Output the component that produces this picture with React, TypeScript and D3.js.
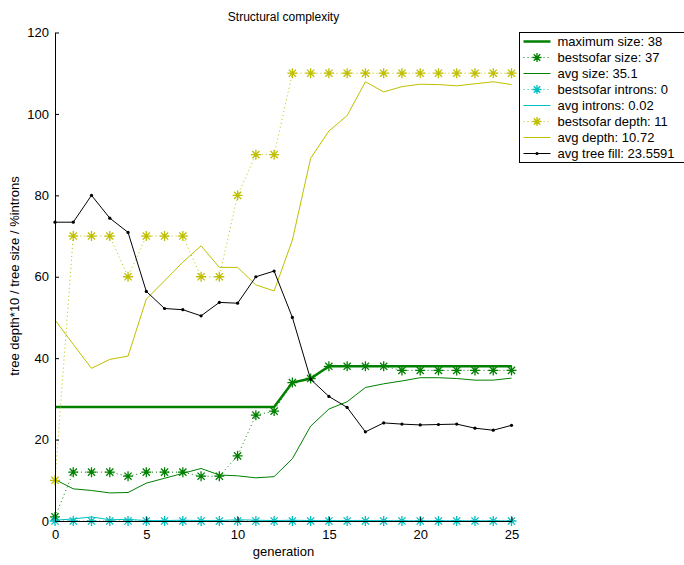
import React, { useEffect, useRef } from "react";
import * as d3 from "d3";

const generations = d3.range(0, 26);

// values (depth is *10)
const maxSize = [28, 28, 28, 28, 28, 28, 28, 28, 28, 28, 28, 28, 28, 34, 35, 38, 38, 38, 38, 38, 38, 38, 38, 38, 38, 38];
const bestSize = [1, 12, 12, 12, 11, 12, 12, 12, 11, 11, 16, 26, 27, 34, 35, 38, 38, 38, 38, 37, 37, 37, 37, 37, 37, 37];
const avgSize = [10.2, 7.9, 7.5, 6.9, 7.0, 9.3, 10.5, 11.7, 12.9, 11.3, 11.1, 10.6, 10.9, 15.3, 23.3, 27.5, 29.3, 32.8, 33.7, 34.4, 35.2, 35.2, 35.0, 34.6, 34.6, 35.1];
const bestIntrons = [0, 0, 0, 0, 0, 0, 0, 0, 0, 0, 0, 0, 0, 0, 0, 0, 0, 0, 0, 0, 0, 0, 0, 0, 0, 0];
const avgIntrons = [0.2, 0.5, 1.0, 0.3, 0.4, 0.1, 0.1, 0.2, 0.1, 0.1, 0.3, 0.2, 0.1, 0.2, 0.1, 0.1, 0.1, 0.1, 0.1, 0.05, 0.05, 0.05, 0.05, 0.05, 0.05, 0.02];
const bestDepth = [10, 70, 70, 70, 60, 70, 70, 70, 60, 60, 80, 90, 90, 110, 110, 110, 110, 110, 110, 110, 110, 110, 110, 110, 110, 110];
const avgDepth = [49.4, 43.4, 37.5, 39.7, 40.5, 54.5, 59.0, 63.6, 67.6, 62.3, 62.3, 58.0, 56.5, 69.0, 89.1, 95.8, 99.6, 107.9, 105.4, 106.7, 107.3, 107.2, 106.9, 107.4, 107.9, 107.2];
const avgFill = [73.4, 73.4, 80.0, 74.4, 70.9, 56.4, 52.2, 51.9, 50.4, 53.7, 53.5, 60.0, 61.4, 50.0, 34.8, 30.6, 27.9, 21.9, 24.1, 23.8, 23.6, 23.7, 23.8, 22.8, 22.3, 23.5];

const xTicks = [0, 5, 10, 15, 20, 25];
const yTicks = [0, 20, 40, 60, 80, 100, 120];

const GREEN = "#008000";
const YELLOW = "#bfbf00";
const CYAN = "#00bfbf";
const BLACK = "#000000";

const series = [
  { label: "maximum size: 38", values: maxSize, color: GREEN, width: 2.5, dotted: false, marker: "none" },
  { label: "bestsofar size: 37", values: bestSize, color: GREEN, width: 1, dotted: true, marker: "star" },
  { label: "avg size: 35.1", values: avgSize, color: GREEN, width: 1, dotted: false, marker: "none" },
  { label: "bestsofar introns: 0", values: bestIntrons, color: CYAN, width: 1, dotted: true, marker: "star" },
  { label: "avg introns: 0.02", values: avgIntrons, color: CYAN, width: 1, dotted: false, marker: "none" },
  { label: "bestsofar depth: 11", values: bestDepth, color: YELLOW, width: 1, dotted: true, marker: "star" },
  { label: "avg depth: 10.72", values: avgDepth, color: YELLOW, width: 1, dotted: false, marker: "none" },
  { label: "avg tree fill: 23.5591", values: avgFill, color: BLACK, width: 1, dotted: false, marker: "dot" },
];

const FONT = "'Liberation Sans', Arial, sans-serif";

const starPath = (r: number) => {
  const d = r * 0.72;
  return `M${-r},0L${r},0M0,${-r}L0,${r}M${-d},${-d}L${d},${d}M${-d},${d}L${d},${-d}`;
};

const App = () => {
  const svgRef = useRef<SVGSVGElement>(null);

  useEffect(() => {
    if (!svgRef.current) return;
    const width = 684;
    const height = 565;
    const svg = d3.select(svgRef.current).attr("width", width).attr("height", height);
    svg.selectAll("*").remove();

    const x = d3.scaleLinear().domain([0, 25]).range([55, 511.5]);
    const y = d3.scaleLinear().domain([0, 120]).range([521, 32.5]);

    // title
    svg.append("text")
      .attr("x", 283.5).attr("y", 21)
      .attr("text-anchor", "middle")
      .style("font-family", FONT).style("font-size", "12px")
      .text("Structural complexity");

    const plot = svg.append("g");

    series.forEach((s) => {
      const line = d3.line<number>()
        .x((_, i) => x(generations[i]))
        .y((d) => y(d));
      plot.append("path")
        .datum(s.values)
        .attr("fill", "none")
        .attr("stroke", s.color)
        .attr("stroke-width", s.width)
        .attr("stroke-dasharray", s.dotted ? "1,3" : null)
        .attr("d", line);
      if (s.marker === "star") {
        plot.selectAll(null)
          .data(s.values)
          .enter()
          .append("path")
          .attr("transform", (d, i) => `translate(${x(generations[i])},${y(d)})`)
          .attr("d", starPath(5))
          .attr("stroke", s.color)
          .attr("stroke-width", 1.3)
          .attr("fill", "none");
      }
      if (s.marker === "dot") {
        plot.selectAll(null)
          .data(s.values)
          .enter()
          .append("circle")
          .attr("cx", (d, i) => x(generations[i]))
          .attr("cy", (d) => y(d))
          .attr("r", 1.6)
          .attr("fill", s.color);
      }
    });

    // axes
    const xAxis = svg.append("g")
      .attr("transform", `translate(0,${y(0)})`)
      .call(d3.axisBottom(x).tickValues(xTicks).tickSize(-4).tickPadding(6).tickSizeOuter(0));
    const yAxis = svg.append("g")
      .attr("transform", `translate(${x(0)},0)`)
      .call(d3.axisLeft(y).tickValues(yTicks).tickSize(-4).tickPadding(6).tickSizeOuter(0));
    [xAxis, yAxis].forEach((a) => {
      a.selectAll("text").style("font-family", FONT).style("font-size", "13px").attr("fill", "#000");
      a.selectAll("line").attr("stroke", "#000");
      a.select(".domain").attr("stroke", "#000");
    });
    xAxis.selectAll("text").attr("dy", "0.9em");

    svg.append("text")
      .attr("x", 283.5).attr("y", 556)
      .attr("text-anchor", "middle")
      .style("font-family", FONT).style("font-size", "13px")
      .text("generation");

    svg.append("text")
      .attr("transform", "rotate(-90)")
      .attr("x", -276).attr("y", 19)
      .attr("text-anchor", "middle")
      .style("font-family", FONT).style("font-size", "13px")
      .text("tree depth*10 / tree size / %introns");

    // legend
    const lg = svg.append("g").attr("transform", "translate(519.5,32.5)");
    lg.append("rect")
      .attr("width", 170).attr("height", 130)
      .attr("fill", "#fff").attr("stroke", "#000").attr("stroke-width", 1);
    series.forEach((s, i) => {
      const cy = 9 + i * 16;
      lg.append("line")
        .attr("x1", 4).attr("x2", 31).attr("y1", cy).attr("y2", cy)
        .attr("stroke", s.color).attr("stroke-width", s.width)
        .attr("stroke-dasharray", s.dotted ? "1,3" : null);
      if (s.marker === "star") {
        lg.append("path")
          .attr("transform", `translate(17.5,${cy})`)
          .attr("d", starPath(4.5))
          .attr("stroke", s.color).attr("stroke-width", 1.3).attr("fill", "none");
      }
      if (s.marker === "dot") {
        lg.append("circle").attr("cx", 17.5).attr("cy", cy).attr("r", 1.6).attr("fill", s.color);
      }
      lg.append("text")
        .attr("x", 38).attr("y", cy + 4.5)
        .style("font-family", FONT).style("font-size", "13px")
        .text(s.label);
    });
  }, []);

  return (
    <svg ref={svgRef} style={{ position: "absolute", left: 0, top: 0, display: "block" }}></svg>
  );
};

export default App;
